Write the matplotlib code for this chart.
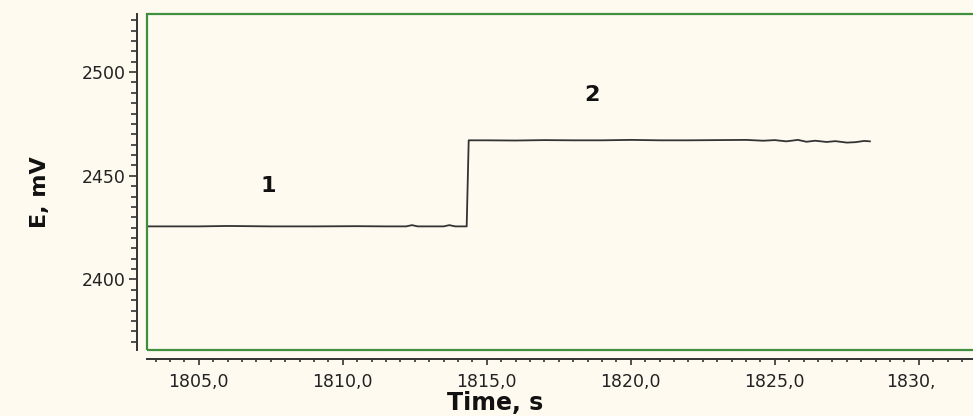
import numpy as np
import matplotlib.pyplot as plt
import matplotlib as mpl
from matplotlib.patches import Rectangle
from matplotlib.ticker import MultipleLocator, FixedLocator
import matplotlib.transforms as mtransforms

mpl.rcParams["font.family"] = "DejaVu Sans"

# potential record
time_s = [1803.2, 1805.0, 1806.0, 1807.5, 1809.0, 1810.5, 1811.5, 1812.2, 1812.4,
          1812.6, 1813.0, 1813.5, 1813.7, 1813.9, 1814.3, 1814.37, 1815.0, 1816.0,
          1817.0, 1818.0, 1819.0, 1820.0, 1821.0, 1822.0, 1823.0, 1824.0, 1824.6,
          1825.0, 1825.4, 1825.8, 1826.1, 1826.4, 1826.8, 1827.1, 1827.5, 1827.8,
          1828.1, 1828.3]
e_mv = [2425.6, 2425.6, 2425.8, 2425.6, 2425.6, 2425.7, 2425.6, 2425.6, 2426.2,
        2425.6, 2425.6, 2425.6, 2426.2, 2425.6, 2425.6, 2467.1, 2467.1, 2467.0,
        2467.2, 2467.1, 2467.1, 2467.3, 2467.1, 2467.1, 2467.2, 2467.3, 2466.9,
        2467.2, 2466.6, 2467.3, 2466.4, 2466.9, 2466.3, 2466.7, 2466.0, 2466.2,
        2466.8, 2466.6]

xticks = [1805, 1810, 1815, 1820, 1825, 1830]
xticklabels = ["1805,0", "1810,0", "1815,0", "1820,0", "1825,0", "1830,"]
yticks = [2400, 2450, 2500]
labels = [("1", 1807.4, 2444.9), ("2", 1818.65, 2488.9)]

W, H = 973, 416
fig = plt.figure(figsize=(W / 100, H / 100), dpi=100)
fig.patch.set_facecolor("#fffaf0")

left, right, top, bottom = 147, 985, 14, 350
ax = fig.add_axes([left / W, 1 - bottom / H, (right - left) / W, (bottom - top) / H])
ax.set_facecolor("#fffaf0")

ax.plot(time_s, e_mv, color="#333333", lw=1.3)

ax.set_xlim(1803.2, 1803.2 + (right - left) / 28.8)
ax.set_ylim(2366, 2528)

for txt, tx, ty in labels:
    ax.text(tx, ty, txt, fontsize=16, fontweight="bold", ha="center", va="center", color="#111111")

# green frame around the data area
ax.add_patch(Rectangle((0, 0), 1, 1, transform=ax.transAxes, fill=False,
                       edgecolor="#3f8f3f", lw=1.6, clip_on=False, zorder=5))

for s in ["top", "right"]:
    ax.spines[s].set_visible(False)
ax.spines["left"].set_position(("outward", 7.2))
ax.spines["bottom"].set_position(("outward", 6.5))
ax.spines["left"].set_color("#333333")
ax.spines["bottom"].set_color("#333333")
ax.spines["left"].set_linewidth(1.4)
ax.spines["bottom"].set_linewidth(1.4)

ax.xaxis.set_major_locator(FixedLocator(xticks))
ax.set_xticklabels(xticklabels)
ax.xaxis.set_minor_locator(MultipleLocator(0.5))
ax.yaxis.set_major_locator(FixedLocator(yticks))
ax.yaxis.set_minor_locator(MultipleLocator(5))

ax.tick_params(axis="y", which="major", length=6, width=1.2, labelsize=12.5, colors="#333333", pad=2)
ax.tick_params(axis="y", which="minor", length=4, width=1.2, colors="#333333")
ax.tick_params(axis="x", which="major", length=4, width=1.2, labelsize=12.5, colors="#333333", pad=6)
ax.tick_params(axis="x", which="minor", length=2.5, width=1.2, colors="#333333")
for lbl in ax.get_xticklabels() + ax.get_yticklabels():
    lbl.set_color("#222222")

# truncated last label starts where a full label would start
last = ax.get_xticklabels()[-1]
last.set_horizontalalignment("left")
last.set_transform(last.get_transform() + mtransforms.ScaledTranslation(-33 / 100, 0, fig.dpi_scale_trans))

fig.text(40 / W, 1 - 192 / H, "E, mV", rotation=90, fontsize=16, fontweight="bold",
         ha="center", va="center", color="#111111")
fig.text(495 / W, 1 - 403 / H, "Time, s", fontsize=17, fontweight="bold",
         ha="center", va="center", color="#111111")

plt.savefig("out.png", dpi=100, facecolor=fig.get_facecolor())
